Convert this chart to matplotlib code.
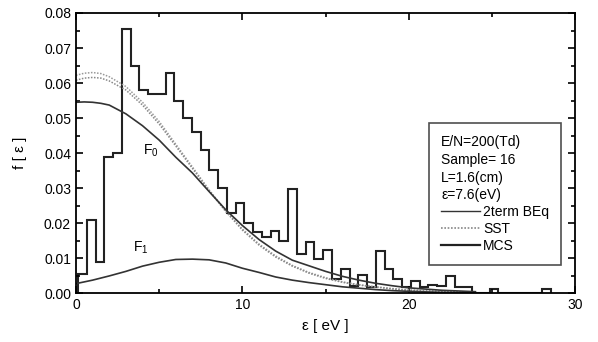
import numpy as np
import matplotlib
matplotlib.use("Agg")
from matplotlib import pyplot as plt
from matplotlib.lines import Line2D
from matplotlib.ticker import MultipleLocator

plt.rcParams['font.family'] = ['Liberation Sans', 'DejaVu Sans']
plt.rcParams['mathtext.fontset'] = 'custom'
plt.rcParams['mathtext.rm'] = 'Liberation Sans'

# MCS histogram: first bin edge, bin width (eV) and bin heights
hist_start = 0.13
hist_width = 0.526
mcs_heights = [0.0055, 0.021, 0.009, 0.039, 0.040, 0.0753, 0.065, 0.058, 0.057, 0.057,
               0.063, 0.055, 0.050, 0.046, 0.041, 0.0353, 0.030, 0.0229, 0.0256, 0.0199,
               0.0175, 0.0161, 0.0178, 0.0149, 0.0296, 0.0111, 0.0147, 0.0097, 0.0123, 0.0039,
               0.0068, 0.002, 0.0051, 0.0018, 0.0121, 0.0068, 0.0039, 0.0016, 0.0035, 0.0016,
               0.0022, 0.0020, 0.005, 0.0017, 0.0017, 0, 0, 0.0012, 0, 0,
               0, 0, 0, 0.0012]

# smooth curves
eps = [0, 0.5, 1, 1.5, 2, 3, 4, 5, 6, 7, 8, 9, 10, 11, 12, 13, 14, 15, 16, 17, 18, 19, 20, 22, 24]
sst_a = [0.0622, 0.0628, 0.0630, 0.0627, 0.0618, 0.0590, 0.0545, 0.0490, 0.0425, 0.0360, 0.0295,
         0.0235, 0.0183, 0.0140, 0.0106, 0.0079, 0.0059, 0.0044, 0.0032, 0.0024, 0.0018, 0.0013,
         0.0009, 0.0005, 0.0002]
sst_b = [0.0608, 0.0614, 0.0616, 0.0614, 0.0606, 0.0580, 0.0537, 0.0483, 0.0420, 0.0356, 0.0292,
         0.0233, 0.0180, 0.0137, 0.0103, 0.0077, 0.0057, 0.0042, 0.0031, 0.0023, 0.0017, 0.0012,
         0.0008, 0.0004, 0.0002]
beq_f0 = [0.0545, 0.0546, 0.0545, 0.0542, 0.0537, 0.0512, 0.0478, 0.0437, 0.0388, 0.0343, 0.0290,
          0.0238, 0.0193, 0.0153, 0.0120, 0.0094, 0.0078, 0.0062, 0.0048, 0.0037, 0.0028, 0.0021,
          0.0015, 0.0008, 0.0004]
beq_f1 = [0.0027, 0.0032, 0.0037, 0.0043, 0.0049, 0.0062, 0.0077, 0.0088, 0.0096, 0.0097, 0.0095,
          0.0086, 0.0071, 0.0059, 0.0046, 0.0037, 0.0030, 0.0024, 0.0018, 0.0014, 0.0010, 0.0007,
          0.0005, 0.0002, 0.0001]

fig = plt.figure(figsize=(5.98, 3.42), dpi=100)
ax = fig.add_axes([0.127, 0.143, 0.835, 0.819])

edges = hist_start + hist_width * np.arange(len(mcs_heights) + 1)
ax.stairs(mcs_heights, edges, color='#222222', lw=1.5)

ax.plot(eps, sst_a, color='#999999', lw=1.1, ls=(0, (1, 1)))
ax.plot(eps, sst_b, color='#888888', lw=1.1, ls=(0, (1, 1)))
ax.plot(eps, beq_f0, color='#333333', lw=1.2)
ax.plot(eps, beq_f1, color='#333333', lw=1.2)

ax.text(4.5, 0.0405, r'$\mathrm{F_0}$', fontsize=10, ha='center', va='center')
ax.text(3.9, 0.0128, r'$\mathrm{F_1}$', fontsize=10, ha='center', va='center')

ax.set_xlim(0, 30)
ax.set_ylim(0, 0.08)
ax.xaxis.set_major_locator(MultipleLocator(10))
ax.xaxis.set_minor_locator(MultipleLocator(5))
ax.yaxis.set_major_locator(MultipleLocator(0.01))
ax.yaxis.set_minor_locator(MultipleLocator(0.005))
ax.yaxis.set_major_formatter(matplotlib.ticker.FormatStrFormatter('%.2f'))
ax.tick_params(which='both', direction='in', top=True, right=True, labelsize=10, width=1.2)
ax.tick_params(which='major', length=5)
ax.tick_params(which='minor', length=3)
for s in ax.spines.values():
    s.set_linewidth(1.3)

ax.set_xlabel('ε [ eV ]', fontsize=11, labelpad=5)
ax.set_ylabel('f [ ε ]', fontsize=11, labelpad=12)

handles = [Line2D([], [], color='#333333', lw=1.0),
           Line2D([], [], color='#888888', lw=1.2, ls=(0, (1, 1))),
           Line2D([], [], color='#222222', lw=1.6)]
leg = ax.legend(handles, ['2term BEq', 'SST', 'MCS'],
                title='E/N=200(Td)\nSample= 16\nL=1.6(cm)\nε=7.6(eV)',
                title_fontsize=10, fontsize=10, alignment='left',
                loc='upper left', bbox_to_anchor=(0.708, 0.607),
                frameon=True, fancybox=False, edgecolor='#222222',
                handlelength=2.8, handletextpad=0.2, labelspacing=0.2,
                borderpad=0.85, borderaxespad=0)
leg.get_frame().set_linewidth(1.2)
leg.get_title().set_linespacing(1.35)

fig.savefig('out.png', dpi=100)
